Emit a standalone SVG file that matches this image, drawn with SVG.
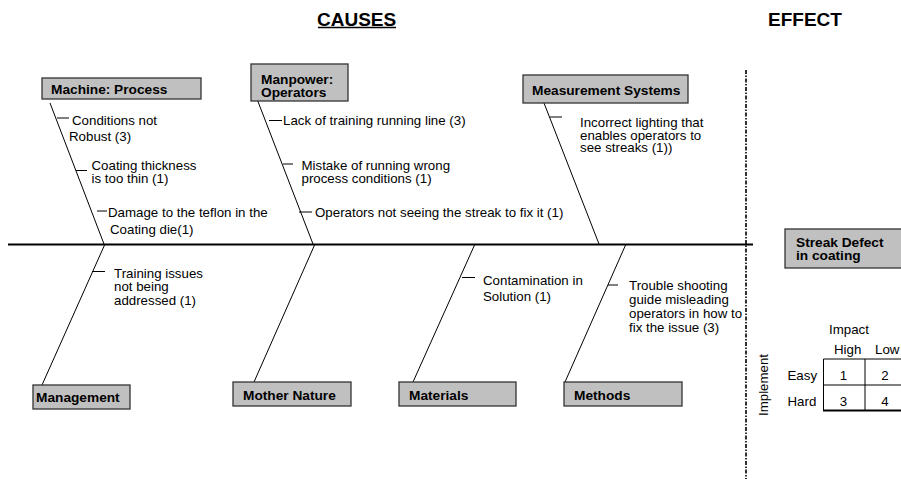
<svg xmlns="http://www.w3.org/2000/svg" width="901" height="479" viewBox="0 0 901 479">
  <style>
    text { font-family: "Liberation Sans", Arial, sans-serif; fill: #000; }
    .t { font-size: 13.3px; }
    .b { font-size: 13.7px; font-weight: bold; }
    .h { font-size: 19px; font-weight: bold; }
    .box { fill: #c0c0c0; stroke: #333; stroke-width: 1.3; }
    .bone { stroke: #000; stroke-width: 1; fill: none; }
    .tick { stroke: #000; stroke-width: 1; }
  </style>
  <rect width="901" height="479" fill="#fff"/>

  <!-- headings -->
  <text class="h" x="317" y="26">CAUSES</text>
  <line x1="318" y1="27.5" x2="396" y2="27.5" stroke="#000" stroke-width="1.6"/>
  <text class="h" x="768" y="26">EFFECT</text>

  <!-- spine, bones, separator -->
  <g id="connectors">
    <line x1="8" y1="244.5" x2="753" y2="244.5" stroke="#000" stroke-width="2"/>
    <line x1="746" y1="70" x2="746" y2="479" stroke="#000" stroke-width="1.6" stroke-dasharray="4 1.5 1.5 1.5"/>
    <line class="bone" x1="50" y1="103" x2="104" y2="244"/>
    <line class="bone" x1="257" y1="99" x2="313" y2="244"/>
    <line class="bone" x1="544" y1="103" x2="599" y2="244"/>
    <line class="bone" x1="105" y1="244" x2="42" y2="385"/>
    <line class="bone" x1="315" y1="244" x2="254" y2="382"/>
    <line class="bone" x1="475" y1="244" x2="413" y2="382"/>
    <line class="bone" x1="626" y1="244" x2="565" y2="382"/>
    <!-- cause ticks -->
    <line class="tick" x1="57" y1="118" x2="69" y2="118"/>
    <line class="tick" x1="76" y1="170.5" x2="87" y2="170.5"/>
    <line class="tick" x1="97" y1="211" x2="107" y2="211"/>
    <line class="tick" x1="269" y1="120.5" x2="282" y2="120.5"/>
    <line class="tick" x1="283" y1="164" x2="293" y2="164"/>
    <line class="tick" x1="299" y1="212" x2="312" y2="212"/>
    <line class="tick" x1="550" y1="117" x2="562" y2="117"/>
    <line class="tick" x1="92" y1="271.5" x2="105" y2="271.5"/>
    <line class="tick" x1="462" y1="277.5" x2="475" y2="277.5"/>
    <line class="tick" x1="608" y1="285" x2="618" y2="285"/>
  </g>

  <!-- category nodes -->
  <g id="machine">
    <rect class="box" x="42" y="78" width="159" height="21"/>
    <text class="b" x="51" y="94">Machine: Process</text>
    <text class="t"><tspan x="72" y="125">Conditions not</tspan><tspan x="69" y="141">Robust (3)</tspan></text>
    <text class="t"><tspan x="91.5" y="170">Coating thickness</tspan><tspan x="91.5" y="183">is too thin (1)</tspan></text>
    <text class="t"><tspan x="108" y="216.5">Damage to the teflon in the</tspan><tspan x="110" y="233.5">Coating die(1)</tspan></text>
  </g>
  <g id="manpower">
    <rect class="box" x="251" y="64" width="97" height="37"/>
    <text class="b"><tspan x="261" y="84">Manpower:</tspan><tspan x="261" y="97">Operators</tspan></text>
    <text class="t" x="283" y="125">Lack of training running line (3)</text>
    <text class="t"><tspan x="301.5" y="170">Mistake of running wrong</tspan><tspan x="301.5" y="183">process conditions (1)</tspan></text>
    <text class="t" x="315" y="216.5">Operators not seeing the streak to fix it (1)</text>
  </g>
  <g id="measurement">
    <rect class="box" x="523" y="75" width="165" height="28"/>
    <text class="b" x="532" y="94.5">Measurement Systems</text>
    <text class="t"><tspan x="580" y="126.5">Incorrect lighting that</tspan><tspan x="580" y="139.5">enables operators to</tspan><tspan x="580" y="152">see streaks (1))</tspan></text>
  </g>
  <g id="management">
    <rect class="box" x="33" y="385" width="97" height="24"/>
    <text class="b" x="36" y="402">Management</text>
    <text class="t"><tspan x="114" y="277.5">Training issues</tspan><tspan x="114" y="291">not being</tspan><tspan x="114" y="305">addressed (1)</tspan></text>
  </g>
  <g id="mother-nature">
    <rect class="box" x="233" y="382" width="118" height="24"/>
    <text class="b" x="243" y="400">Mother Nature</text>
  </g>
  <g id="materials">
    <rect class="box" x="399" y="382" width="117" height="24"/>
    <text class="b" x="409" y="400">Materials</text>
    <text class="t"><tspan x="483" y="284.5">Contamination in</tspan><tspan x="483" y="301">Solution (1)</tspan></text>
  </g>
  <g id="methods">
    <rect class="box" x="564" y="382" width="118" height="24"/>
    <text class="b" x="574" y="400">Methods</text>
    <text class="t"><tspan x="629" y="290">Trouble shooting</tspan><tspan x="629" y="304">guide misleading</tspan><tspan x="629" y="318">operators in how to</tspan><tspan x="629" y="332">fix the issue (3)</tspan></text>
  </g>

  <!-- effect -->
  <g id="effect">
    <rect class="box" x="785" y="229" width="120" height="39"/>
    <text class="b"><tspan x="796" y="247">Streak Defect</tspan><tspan x="796" y="260">in coating</tspan></text>
  </g>

  <!-- priority matrix -->
  <g id="matrix">
    <text class="t" x="829" y="334">Impact</text>
    <text class="t" x="834" y="354">High</text>
    <text class="t" x="875" y="354">Low</text>
    <text class="t" x="787.5" y="379.5">Easy</text>
    <text class="t" x="787.5" y="405.5">Hard</text>
    <text class="t" transform="translate(768 385) rotate(-90)" text-anchor="middle">Implement</text>
    <line x1="823.5" y1="359" x2="901" y2="359" stroke="#000" stroke-width="1"/>
    <line x1="823.5" y1="385" x2="901" y2="385" stroke="#000" stroke-width="1"/>
    <line x1="823.5" y1="359" x2="823.5" y2="410" stroke="#000" stroke-width="1"/>
    <line x1="865" y1="359" x2="865" y2="410" stroke="#000" stroke-width="1"/>
    <line x1="823" y1="410.5" x2="901" y2="410.5" stroke="#000" stroke-width="2"/>
    <text class="t" x="843.5" y="379.5" text-anchor="middle">1</text>
    <text class="t" x="885" y="379.5" text-anchor="middle">2</text>
    <text class="t" x="843.5" y="405.5" text-anchor="middle">3</text>
    <text class="t" x="885" y="405.5" text-anchor="middle">4</text>
  </g>
</svg>
